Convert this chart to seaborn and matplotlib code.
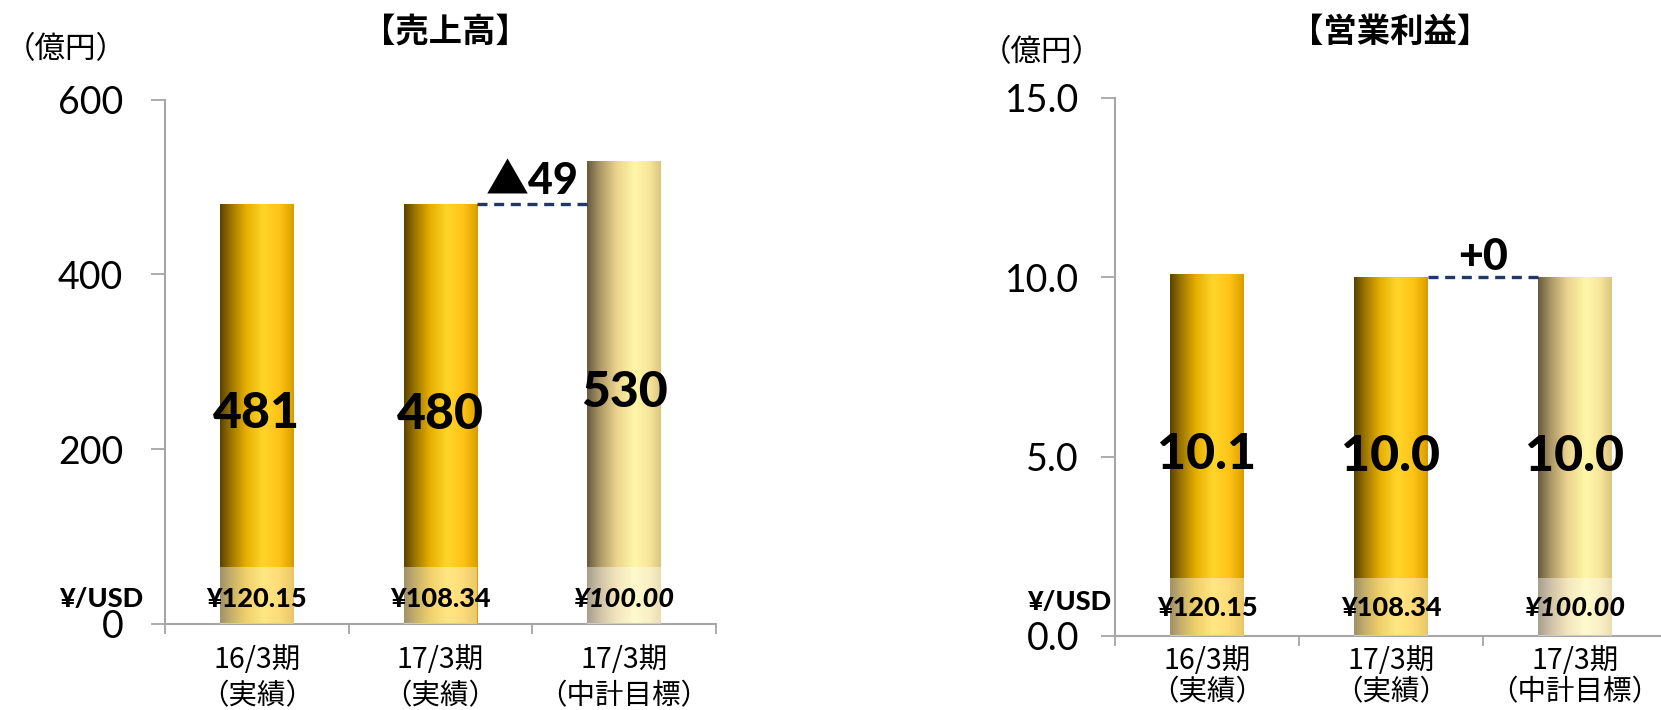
import numpy as np
import pandas as pd
import matplotlib
matplotlib.use("Agg")
import matplotlib.pyplot as plt
from matplotlib.colors import LinearSegmentedColormap
from matplotlib.patches import Rectangle
import seaborn as sns

# ---------------- data ----------------
categories = ["16/3期\n（実績）", "17/3期\n（実績）", "17/3期\n（中計目標）"]
sales = [481, 480, 530]
sales_labels = ["481", "480", "530"]
profit = [10.1, 10.0, 10.0]
profit_labels = ["10.1", "10.0", "10.0"]
fx_labels = ["¥120.15", "¥108.34", "¥100.00"]
fx_italic = [False, False, True]
sales_diff_label = "▲49"
profit_diff_label = "+0"
sales_ticks = [0, 200, 400, 600]
profit_ticks = [0.0, 5.0, 10.0, 15.0]

sns.set_theme(style="white")
plt.rcParams["font.family"] = ["Lato", "Noto Sans CJK JP", "DejaVu Sans"]
plt.rcParams["text.color"] = "black"
plt.rcParams["xtick.color"] = "black"
plt.rcParams["ytick.color"] = "black"
CJK = ["Noto Sans CJK JP", "DejaVu Sans"]
NUM = ["Lato", "Noto Sans CJK JP", "DejaVu Sans"]

gold = LinearSegmentedColormap.from_list("gold", [
    (0.00, "#594200"), (0.15, "#9C7600"), (0.35, "#E6AE00"),
    (0.58, "#FFD52A"), (0.80, "#FFC418"), (0.96, "#E2A600"), (1.00, "#D49C00")])
pale = LinearSegmentedColormap.from_list("pale", [
    (0.00, "#665A3E"), (0.18, "#AE9968"), (0.40, "#EBD48E"),
    (0.65, "#FFF7A8"), (0.85, "#F6E59B"), (1.00, "#DCC47E")])
cmaps = [gold, gold, pale]

fig = plt.figure(figsize=(16.61, 7.10), dpi=100)
ax1 = fig.add_axes([165 / 1661, 86 / 710, 551 / 1661, 524.4 / 710])
ax2 = fig.add_axes([1115 / 1661, 74 / 710, 552 / 1661, 538 / 710])

GRAY = "#A6A6A6"


def draw(ax, values, vlabels, ticks, fmt, diff_label, title, diff_dy, fx_dy, unit_xy,
         fxlab_xy, title_x, tick_pad, xpad, xls):
    df = pd.DataFrame({"cat": categories, "val": values})
    sns.barplot(data=df, x="cat", y="val", ax=ax, width=0.4, color="#FFD52A",
                edgecolor="none", linewidth=0, saturation=1, errorbar=None)
    ymax = ticks[-1]
    ax.set_xlim(-0.5, 2.5)
    ax.set_ylim(0, ymax)
    grad = np.linspace(0, 1, 256).reshape(1, -1)
    for i, p in enumerate(ax.patches[:3]):
        x0, y0 = p.get_x(), p.get_y()
        w, h = p.get_width(), p.get_height()
        p.set_facecolor("none")
        im = ax.imshow(grad, cmap=cmaps[i], aspect="auto",
                       extent=(x0, x0 + w, y0, y0 + h), zorder=2, interpolation="bicubic")
        im.set_clip_path(p)
        band = Rectangle((x0, 0), w, ymax * 0.108, facecolor="white", alpha=0.42,
                         edgecolor="none", zorder=3)
        ax.add_patch(band)
        ax.text(x0 + w / 2, y0 + h / 2, vlabels[i], ha="center", va="center",
                fontsize=36, fontweight="black", family=NUM, zorder=5)
        ax.annotate(fx_labels[i], (x0 + w / 2, 0), xytext=(0, fx_dy), textcoords="offset points",
                    ha="center", va="center", fontsize=19.5, fontweight="black",
                    style="italic" if fx_italic[i] else "normal", family=NUM, zorder=5)
    # dashed connector
    p2, p3 = ax.patches[1], ax.patches[2]
    yline = p2.get_height()
    ax.plot([p2.get_x() + p2.get_width(), p3.get_x()], [yline, yline],
            ls=(0, (3, 2)), color="#1F3864", lw=2.4, zorder=4)
    ax.annotate(diff_label, ((p2.get_x() + p2.get_width() + p3.get_x()) / 2, yline),
                xytext=(0, diff_dy), textcoords="offset points", ha="center", va="center",
                fontsize=31, fontweight="black", family=NUM, zorder=5)
    # axes styling
    for s in ["top", "right"]:
        ax.spines[s].set_visible(False)
    for s in ["left", "bottom"]:
        ax.spines[s].set_color(GRAY)
        ax.spines[s].set_linewidth(1.5)
    ax.set_yticks(ticks)
    ax.set_yticklabels([fmt.format(t) for t in ticks], fontsize=27, family=NUM, color="black")
    ax.tick_params(axis="y", direction="out", length=10, width=1.3, color=GRAY, pad=tick_pad, left=True)
    ax.set_xticks([0, 1, 2])
    ax.set_xticklabels(categories, fontsize=20.5, family=CJK, linespacing=xls, color="black")
    ax.set_xticks([-0.5, 0.5, 1.5, 2.5], minor=True)
    ax.tick_params(axis="x", which="major", length=0, pad=xpad)
    ax.tick_params(axis="x", which="minor", direction="out", length=7, width=1.3, color=GRAY, bottom=True)
    ax.set_xlabel("")
    ax.set_ylabel("")
    ax.grid(False)
    # texts in figure pixel space
    fig.text(unit_xy[0] / 1661, 1 - unit_xy[1] / 710, "（億円）", ha="center", va="center",
             fontsize=22, family=CJK)
    fig.text(fxlab_xy[0] / 1661, 1 - fxlab_xy[1] / 710, "¥/USD", ha="center", va="center",
             fontsize=19.5, fontweight="black", family=NUM)
    fig.text(title_x / 1661, 1 - 32 / 710, title, ha="center", va="center",
             fontsize=24, fontweight="bold", family=CJK)


draw(ax1, sales, sales_labels, sales_ticks, "{:.0f}", sales_diff_label, "【売上高】",
     17, 18, (66, 50), (101, 599), 445, 20, 15, 1.28)
draw(ax2, profit, profit_labels, profit_ticks, "{:.1f}", profit_diff_label, "【営業利益】",
     15, 20, (1042, 53), (1069, 602), 1390, 16, 7, 1.08)

fig.savefig("out.png", dpi=100)
